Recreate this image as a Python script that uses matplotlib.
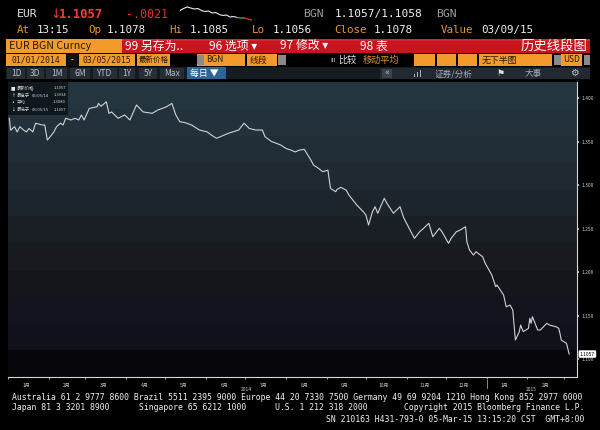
import matplotlib
matplotlib.use('Agg')
import matplotlib.pyplot as plt
import matplotlib.transforms as mtransforms
import matplotlib.dates as mdates
from matplotlib.patches import Rectangle
import pandas as pd
import numpy as np

# ---------------- data ----------------
dates = [
    '2014-01-02', '2014-01-03', '2014-01-06', '2014-01-08', '2014-01-10', '2014-01-13', '2014-01-15',
    '2014-01-17', '2014-01-20', '2014-01-22', '2014-01-27', '2014-01-29', '2014-01-31',
    '2014-02-03', '2014-02-05', '2014-02-07', '2014-02-10', '2014-02-12', '2014-02-14', '2014-02-18',
    '2014-02-21', '2014-02-24', '2014-02-26', '2014-02-28',
    '2014-03-04', '2014-03-10', '2014-03-11', '2014-03-13', '2014-03-17', '2014-03-19', '2014-03-21',
    '2014-03-26', '2014-03-31',
    '2014-04-04', '2014-04-09', '2014-04-14', '2014-04-21', '2014-04-25',
    '2014-05-02', '2014-05-06', '2014-05-09', '2014-05-12', '2014-05-16', '2014-05-21', '2014-05-27',
    '2014-06-02', '2014-06-05', '2014-06-09', '2014-06-12', '2014-06-18', '2014-06-26', '2014-06-30',
    '2014-07-04', '2014-07-09', '2014-07-14', '2014-07-16', '2014-07-21', '2014-07-28',
    '2014-08-01', '2014-08-05', '2014-08-08', '2014-08-11', '2014-08-15', '2014-08-20', '2014-08-22',
    '2014-08-26', '2014-08-29',
    '2014-09-02', '2014-09-04', '2014-09-08', '2014-09-09', '2014-09-12', '2014-09-16', '2014-09-18',
    '2014-09-19', '2014-09-24', '2014-09-29',
    '2014-10-01', '2014-10-03', '2014-10-06', '2014-10-08', '2014-10-10', '2014-10-15', '2014-10-17',
    '2014-10-22', '2014-10-27', '2014-10-30',
    '2014-11-03', '2014-11-07', '2014-11-11', '2014-11-14', '2014-11-18', '2014-11-21', '2014-11-26',
    '2014-11-28',
    '2014-12-03', '2014-12-05', '2014-12-09', '2014-12-12', '2014-12-16', '2014-12-17', '2014-12-19',
    '2014-12-22', '2014-12-24', '2014-12-29', '2014-12-31',
    '2015-01-05', '2015-01-08', '2015-01-09', '2015-01-14', '2015-01-16', '2015-01-19', '2015-01-21',
    '2015-01-23', '2015-01-26', '2015-01-27', '2015-01-29',
    '2015-02-02', '2015-02-03', '2015-02-04', '2015-02-05', '2015-02-09', '2015-02-11', '2015-02-16',
    '2015-02-18', '2015-02-23', '2015-02-25', '2015-02-26', '2015-02-27',
    '2015-03-03', '2015-03-05',
]
prices = [
    1.3767, 1.3630, 1.3670, 1.3610, 1.3670, 1.3630, 1.3610,
    1.3650, 1.3610, 1.3710, 1.3690, 1.3690, 1.3517,
    1.3570, 1.3610, 1.3670, 1.3710, 1.3690, 1.3767, 1.3747,
    1.3767, 1.3747, 1.3805, 1.3747,
    1.3880, 1.3900, 1.3938, 1.3905, 1.3957, 1.3824, 1.3840,
    1.3767, 1.3805,
    1.3747, 1.3920, 1.3840, 1.3824, 1.3860,
    1.3900, 1.3938, 1.3805, 1.3728, 1.3717, 1.3690, 1.3632,
    1.3610, 1.3575, 1.3537, 1.3555, 1.3594, 1.3632, 1.3710,
    1.3650, 1.3632, 1.3632, 1.3555, 1.3500, 1.3460,
    1.3420, 1.3400, 1.3380, 1.3400, 1.3410, 1.3287, 1.3230,
    1.3190, 1.3153,
    1.3170, 1.2960, 1.2923, 1.2950, 1.2973, 1.2940, 1.2885,
    1.2866, 1.2770, 1.2693,
    1.2655, 1.2540, 1.2693, 1.2750, 1.2675, 1.2847, 1.2790,
    1.2675, 1.2750, 1.2617,
    1.2502, 1.2387, 1.2463, 1.2502, 1.2560, 1.2406, 1.2502,
    1.2463,
    1.2330, 1.2387, 1.2463, 1.2483, 1.2520, 1.2348, 1.2253,
    1.2195, 1.2233, 1.2176, 1.2100,
    1.1966, 1.1831, 1.1850, 1.1736, 1.1600, 1.1620, 1.1563,
    1.1218, 1.1314, 1.1390, 1.1314,
    1.1353, 1.1468, 1.1410, 1.1486, 1.1333, 1.1333, 1.1410,
    1.1390, 1.1371, 1.1353, 1.1295, 1.1218,
    1.1180, 1.1057,
]
assert len(dates) == len(prices)

y_ticks = [1.100, 1.150, 1.200, 1.250, 1.300, 1.350, 1.400]
month_labels = ['1月', '2月', '3月', '4月', '5月', '6月', '7月', '8月', '9月',
                '10月', '11月', '12月', '1月', '2月']
year_labels = ['2014', '2015']

# intraday sparkline in the header
spark_vals = [1.1076, 1.1080, 1.1083, 1.1081, 1.1079, 1.1080, 1.1076, 1.1074, 1.1075,
              1.1071, 1.1072, 1.1068, 1.1066, 1.1067, 1.1063, 1.1064, 1.1062]
spark_green = [1.1062, 1.1061, 1.1061]
spark_red = [1.1061, 1.1059, 1.1057]

legend_rows = [('■', '最新价格', '', '1.1057'),
               ('↑', '最高于', '05/06/14', '1.3934'),
               ('•', '平均', '', '1.3080'),
               ('↓', '最低于', '03/05/15', '1.1057')]

# ---------------- style ----------------
plt.rcParams['font.family'] = ['Noto Sans CJK SC', 'DejaVu Sans']
SANS = ['Noto Sans CJK SC', 'DejaVu Sans']
MONO = ['DejaVu Sans Mono', 'Noto Sans CJK SC']
ORANGE_BOX = '#f29a2c'
ORANGE_TXT = '#e8952a'
DARK_TXT = '#2a1800'

W, H = 600, 430
fig = plt.figure(figsize=(W / 100, H / 100), dpi=100, facecolor='black')


def fx(x):
    return x / W


def fy(y):
    return 1 - y / H


def box(x0, y0, x1, y1, color, z=1):
    fig.add_artist(Rectangle((fx(x0), fy(y1)), (x1 - x0) / W, (y1 - y0) / H,
                             transform=fig.transFigure, facecolor=color,
                             edgecolor='none', zorder=z))


def label(x, y, s, color='white', size=8, ha='left', family=SANS, z=5, **kw):
    fig.text(fx(x), fy(y), s, color=color, fontsize=size, ha=ha, va='center',
             family=family, zorder=z, **kw)


# ---------------- header row 1 ----------------
label(17, 14, 'EUR', '#e6e6e6', 8.2, family=MONO)
label(50, 14, '↓', '#ff3b30', 9, family=['DejaVu Sans'])
label(59, 14, '1.1057', '#ff3b30', 8.8, family=MONO, weight='bold')
label(126, 14, '-.0021', '#e0302a', 8.4, family=MONO)
label(303, 14, 'BGN', '#9c9c9c', 8.2, family=MONO)
label(335, 14, '1.1057/1.1058', '#f2f2f2', 8.0, family=MONO)
label(436, 14, 'BGN', '#9c9c9c', 8.2, family=MONO)

sp = fig.add_axes([fx(180), fy(21), 75 / W, 15 / H])
sp.axis('off')
sp.set_facecolor('none')
n1 = len(spark_vals)
sp.plot(range(n1), spark_vals, color='#e8e8e8', lw=0.8)
sp.plot(range(n1 - 1, n1 - 1 + len(spark_green)), spark_green, color='#30c030', lw=0.9)
sp.plot(range(n1 + 1, n1 + 1 + len(spark_red)), spark_red, color='#e03030', lw=0.9)
sp.set_xlim(0, n1 + 4)
sp.set_ylim(1.1055, 1.1085)

# ---------------- header row 2 ----------------
row2 = [(17, 'At', ORANGE_TXT), (37, '13:15', '#f0f0f0'),
        (88, 'Op', ORANGE_TXT), (107, '1.1078', '#f0f0f0'),
        (169, 'Hi', ORANGE_TXT), (190, '1.1085', '#f0f0f0'),
        (252, 'Lo', ORANGE_TXT), (273, '1.1056', '#f0f0f0'),
        (334, 'Close', ORANGE_TXT), (374, '1.1078', '#f0f0f0'),
        (441, 'Value', ORANGE_TXT), (481, '03/09/15', '#f0f0f0')]
for x, s, c in row2:
    label(x, 30, s, c, 7.8, family=MONO)

# ---------------- header row 3 ----------------
box(6, 39, 122, 53, ORANGE_BOX)
label(9, 46, 'EUR BGN Curncy', DARK_TXT, 7.6)
box(122, 39, 590, 53, '#c8141f')
box(122, 39, 590, 41, '#d8262c')
label(125, 46, '99 另存为..', 'white', 8.6)
label(209, 46, '96 选项 ▾', 'white', 8.6)
label(280, 46, '97 修改 ▾', 'white', 8.6)
label(360, 46, '98 表', 'white', 8.6)
label(587, 46, '历史线段图', 'white', 9.6, ha='right')

# ---------------- header row 4 ----------------
box(6, 54, 66, 66, ORANGE_BOX)
label(36, 60, '01/01/2014', DARK_TXT, 5.8, ha='center', family=MONO)
box(67, 54, 78, 66, '#111111')
label(72.5, 60, '-', 'white', 6, ha='center')
box(79, 54, 135, 66, ORANGE_BOX)
label(107, 60, '03/05/2015', DARK_TXT, 5.8, ha='center', family=MONO)
box(137, 54, 170, 66, ORANGE_BOX)
label(153.5, 60, '最新价格', DARK_TXT, 5.4, ha='center')
box(197, 54, 245, 66, ORANGE_BOX)
box(197, 55, 204, 65, '#8a8a8a')
label(206, 60, 'BGN', DARK_TXT, 6.0)
box(247, 54, 277, 66, ORANGE_BOX)
label(250, 60, '线段', DARK_TXT, 6.4)
box(278, 55, 286, 65, '#8a8a8a')
label(330, 60, 'III', '#cccccc', 4.5, family=['DejaVu Sans'])
label(338, 60, '比较', '#e8e8e8', 6.6)
label(363, 60, '移动平均', ORANGE_TXT, 6.6)
for a, b in [(414, 435), (437, 456), (458, 477)]:
    box(a, 54, b, 66, ORANGE_BOX)
box(479, 54, 552, 66, ORANGE_BOX)
label(482, 60, '无下半图', DARK_TXT, 6.4)
box(554, 55, 561, 65, '#8a8a8a')
box(561, 54, 582, 66, ORANGE_BOX)
label(563, 60, 'USD', DARK_TXT, 6.0)
box(584, 55, 590, 65, '#8a8a8a')

# ---------------- header row 5 ----------------
box(6, 67, 590, 79, '#161b1f')
for a, b, s in [(7, 25, '1D'), (27, 44, '3D'), (46, 67, '1M'), (70, 90, '6M'),
                (93, 117, 'YTD'), (119, 135, '1Y'), (139, 157, '5Y'), (160, 184, 'Max')]:
    box(a, 68, b, 79, '#262d33')
    label((a + b) / 2, 73.5, s, '#b8bec4', 6.0, ha='center')
box(187, 67, 226, 79, '#2d6397')
label(190, 73.5, '每日 ▼', 'white', 6.4)
box(380, 68, 590, 79, '#222a30')
box(382, 69, 392, 78, '#3a434b')
label(387, 73.5, '«', '#bbbbbb', 5.5, ha='center', family=['DejaVu Sans'])
for i, hgt in enumerate([3, 5, 7]):
    box(414 + i * 3, 77 - hgt, 415.5 + i * 3, 77, '#aab2b8')
label(435, 73.5, '证券/分析', '#a8aeb4', 6.2)
label(497, 73.5, '⚑', '#e0e0e0', 6.5, family=['DejaVu Sans'])
label(525, 73.5, '大事', '#a8aeb4', 6.2)
label(574, 73.5, '⚙', '#c0c0c0', 7, ha='center', family=['DejaVu Sans'])

# ---------------- main chart ----------------
x = pd.to_datetime(dates)
top_px, bot_px = 82, 377
ax = fig.add_axes([fx(8), fy(bot_px), (577 - 8) / W, (bot_px - top_px) / H])
ax.set_facecolor('black')

band_rgb = np.array([
    (37, 53, 63), (34, 49, 59), (32, 45, 55), (30, 41, 50), (28, 36, 44),
    (26, 31, 37), (24, 26, 31), (21, 22, 28), (18, 19, 29), (16, 17, 27), (7, 7, 11),
]) / 255.0
ax.plot(x, prices, color='#d2d2d2', lw=0.8, zorder=2)
ax.imshow(band_rgb[:, None, :], extent=[0, 1, 0, 1], transform=ax.transAxes,
          aspect='auto', interpolation='nearest', zorder=0)

xmin, xmax = pd.Timestamp('2014-01-01'), pd.Timestamp('2015-03-11')
ax.set_xlim(xmin, xmax)
ymax = 1.100 + (359 - top_px) / 870.0
ymin = 1.100 - (bot_px - 359) / 870.0
ax.set_ylim(ymin, ymax)

for s in ['top', 'left']:
    ax.spines[s].set_visible(False)
for s in ['right', 'bottom']:
    ax.spines[s].set_color('#d6d6d6')
    ax.spines[s].set_linewidth(0.8)
box(0, 376.6, 8, 377.4, '#d6d6d6')

ax.yaxis.tick_right()
ax.set_yticks(y_ticks)
ax.set_yticklabels([f'{v:.3f}' for v in y_ticks])
ax.tick_params(axis='y', length=1.5, width=1.2, color='#d0d0d0', labelsize=3.6,
               labelcolor='#c8c8c8', pad=1.5)

month_starts = pd.date_range('2014-01-01', '2015-03-01', freq='MS')
mids = [m + pd.Timedelta(days=14) for m in month_starts[:len(month_labels)]]
ax.set_xticks(mids)
ax.set_xticklabels(month_labels)
ax.tick_params(axis='x', which='major', length=0, labelsize=3.6,
               labelcolor='#c8c8c8', pad=4)
ax.set_xticks(month_starts, minor=True)
ax.tick_params(axis='x', which='minor', length=1.5, width=0.8, color='#9a9a9a')

trans = mtransforms.blended_transform_factory(ax.transData, ax.transAxes)
ph = bot_px - top_px
year_pos = [pd.Timestamp('2014-07-02'), pd.Timestamp('2015-02-04')]
for d, s in zip(year_pos, year_labels):
    ax.text(mdates.date2num(d), -12.5 / ph, s, transform=trans, ha='center',
            va='center', fontsize=3.6, color='#c8c8c8', clip_on=False)
d15 = mdates.date2num(pd.Timestamp('2015-01-01'))
ax.plot([d15, d15], [-3 / ph, -11 / ph], transform=trans, clip_on=False,
        color='#a0a0a0', lw=0.6)

# last value tag
tr_y = mtransforms.blended_transform_factory(ax.transAxes, ax.transData)
ax.text(1.005, prices[-1], f'{prices[-1]:.4f}', transform=tr_y, fontsize=3.6,
        color='black', ha='left', va='center', clip_on=False, zorder=10,
        bbox=dict(boxstyle='round,pad=0.25', fc='white', ec='none'))

# legend box (top-left)
ax.add_patch(Rectangle((0, 1 - 33 / ph), 60 / 569, 33 / ph, transform=ax.transAxes,
                       facecolor='#0c1318', alpha=0.85, edgecolor='none', zorder=3))
for i, (ic, name, dt, val) in enumerate(legend_rows):
    yy = 88 + i * 7.2
    label(11, yy, ic, '#e8e8e8', 3.4, family=['DejaVu Sans'], z=6)
    label(17, yy, name, '#cfcfcf', 3.2, z=6)
    if dt:
        label(32, yy, dt, '#cfcfcf', 3.0, z=6)
    label(66, yy, val, '#cfcfcf', 3.0, ha='right', z=6)

# ---------------- footer ----------------
FS = 5.85
label(12, 397, 'Australia 61 2 9777 8600 Brazil 5511 2395 9000 Europe 44 20 7330 7500 '
      'Germany 49 69 9204 1210 Hong Kong 852 2977 6000', '#f0f0f0', FS, family=MONO)
label(12, 408, 'Japan 81 3 3201 8900', '#f0f0f0', FS, family=MONO)
label(139, 408, 'Singapore 65 6212 1000', '#f0f0f0', FS, family=MONO)
label(275, 408, 'U.S. 1 212 318 2000', '#f0f0f0', FS, family=MONO)
label(584, 408, 'Copyright 2015 Bloomberg Finance L.P.', '#f0f0f0', FS, ha='right', family=MONO)
label(584, 419, 'SN 210163 H431-793-0 05-Mar-15 13:15:20 CST  GMT+8:00', '#f0f0f0', FS,
      ha='right', family=MONO)

fig.savefig('out.png', dpi=100, facecolor='black')
